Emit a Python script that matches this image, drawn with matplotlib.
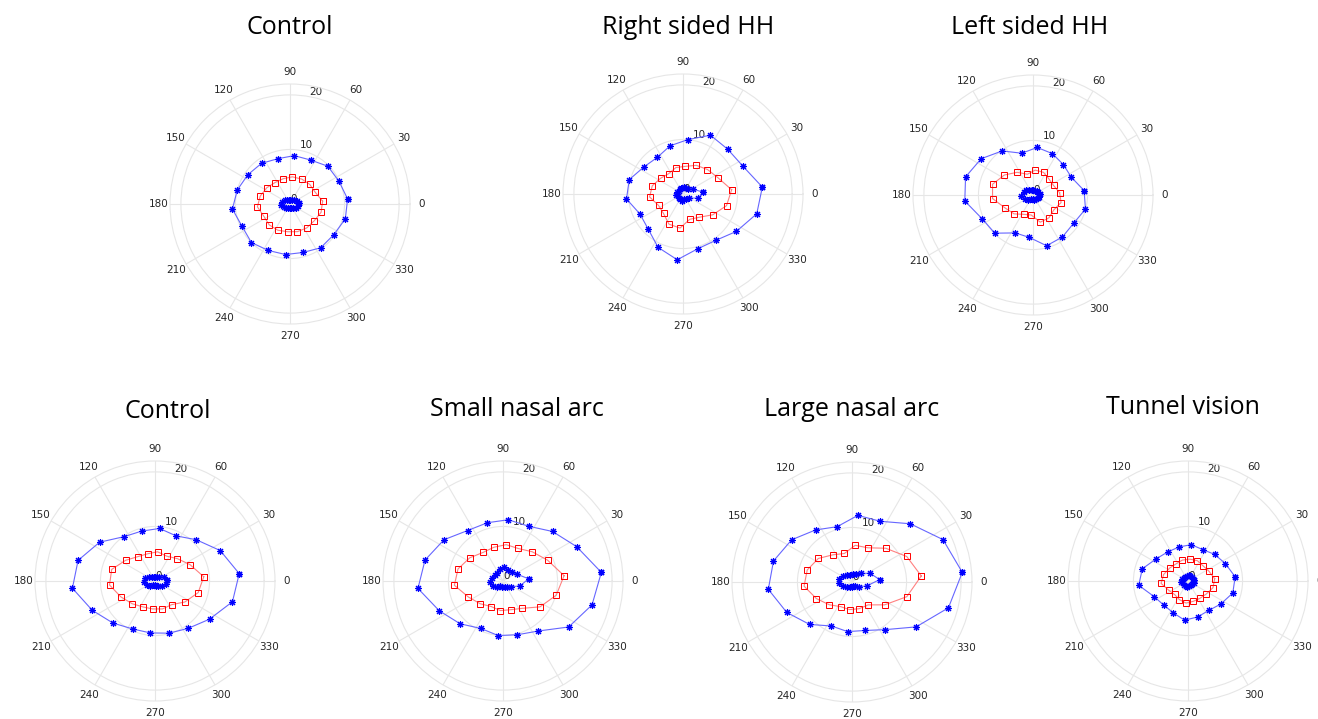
import numpy as np
import matplotlib
matplotlib.use("Agg")
import matplotlib.pyplot as plt

# isopter angles (deg), shared by every panel
angles_deg = [5, 25, 45, 65, 85, 105, 125, 145, 165, 185, 205, 225, 245, 265, 285, 305, 325, 345]

titles = ["Control", "Right sided HH", "Left sided HH",
          "Control", "Small nasal arc", "Large nasal arc", "Tunnel vision"]

theta_labels = ["0", "30", "60", "90", "120", "150", "180", "210", "240", "270", "300", "330"]
r_ticks = [0, 10, 20]

# radii, one value per angle
ctrl_top_outer = [10.6, 9.9, 9.8, 8.9, 8.9, 8.6, 9.1, 9.4, 10.0, 10.6, 9.7, 10.0, 9.4, 9.3, 9.2, 9.8, 9.8, 10.5]
ctrl_top_mid = [6.0, 5.1, 5.1, 5.05, 5.0, 4.8, 4.8, 5.2, 5.65, 6.0, 5.3, 5.4, 5.3, 5.1, 5.25, 5.35, 5.4, 5.9]
ctrl_top_inner = [1.6, 1.4, 1.0, 0.8, 0.8, 0.8, 0.9, 1.2, 1.5, 1.6, 1.3, 1.0, 0.8, 0.8, 0.8, 1.0, 1.3, 1.5]

rhh_outer = [14.6, 12.1, 11.6, 11.9, 10.0, 9.15, 8.2, 8.7, 10.2, 10.4, 8.7, 9.05, 10.8, 12.1, 10.4, 10.4, 11.95, 14.0]
rhh_mid = [8.95, 7.07, 6.35, 5.8, 5.09, 5.02, 4.56, 5.02, 5.83, 6.15, 4.95, 5.05, 6.1, 6.27, 4.8, 5.2, 6.65, 8.26]
rhh_inner = [3.7, 2.1, 1.4, 1.2, 1.2, 1.2, 1.1, 1.0, 1.1, 1.2, 1.0, 1.0, 1.1, 1.2, 1.0, 1.1, 1.3, 2.9]

lhh_outer = [9.4, 7.74, 7.88, 8.38, 8.75, 7.93, 9.86, 11.6, 12.8, 12.55, 10.3, 9.9, 7.67, 7.8, 9.63, 9.4, 9.07, 9.96]
lhh_mid = [4.9, 4.15, 4.14, 4.58, 4.58, 3.94, 5.08, 6.4, 7.67, 7.45, 5.64, 4.89, 3.92, 3.68, 5.16, 5.1, 4.7, 5.33]
lhh_inner = [1.2, 1.1, 1.0, 0.9, 0.9, 1.0, 1.2, 1.5, 1.8, 2.3, 1.6, 1.2, 0.9, 0.8, 0.9, 1.0, 1.1, 1.2]

ctrl_bot_outer = [15.5, 13.2, 10.7, 9.13, 9.67, 9.47, 9.92, 12.4, 14.6, 15.2, 12.7, 10.9, 9.7, 9.56, 9.9, 10.6, 12.2, 14.7]
ctrl_bot_mid = [8.97, 7.09, 5.8, 5.03, 5.38, 5.17, 5.46, 6.6, 8.22, 8.37, 6.9, 5.9, 5.24, 5.14, 5.3, 5.3, 6.7, 8.2]
ctrl_bot_inner = [2.2, 1.8, 1.1, 0.9, 0.8, 0.8, 1.0, 1.4, 1.9, 2.0, 1.6, 1.2, 0.9, 0.8, 0.9, 1.1, 1.5, 2.0]

small_arc_outer = [18.1, 14.9, 12.84, 11.08, 11.27, 11.06, 11.3, 13.2, 14.8, 15.65, 12.9, 11.1, 9.6, 10.04, 10.2, 11.2, 14.7, 16.9]
small_arc_mid = [11.24, 9.02, 7.58, 6.58, 6.69, 6.41, 6.39, 7.43, 8.54, 8.95, 6.98, 5.9, 5.16, 5.44, 5.45, 6.12, 8.27, 10.1]
small_arc_inner = [4.7, 2.9, 2.4, 2.2, 2.5, 2.2, 1.9, 1.8, 2.1, 2.4, 2.1, 1.6, 1.1, 1.1, 1.2, 1.4, 1.9, 3.3]

large_arc_outer = [20.3, 18.4, 15.1, 12.28, 12.26, 10.5, 11.65, 13.5, 14.9, 15.4, 13.2, 11.0, 8.9, 9.13, 9.2, 10.66, 14.35, 18.3]
large_arc_mid = [12.75, 11.07, 8.75, 6.92, 6.75, 5.41, 6.09, 7.53, 8.5, 8.82, 7.2, 5.9, 4.98, 5.08, 5.07, 5.12, 7.3, 10.4]
large_arc_inner = [5.1, 3.7, 2.3, 1.6, 1.5, 1.4, 1.6, 2.0, 2.4, 2.4, 1.9, 1.4, 1.0, 0.9, 0.8, 1.0, 1.5, 2.8]

tunnel_outer = [8.68, 7.56, 6.9, 6.36, 6.69, 6.45, 6.5, 7.1, 8.67, 9.07, 6.82, 6.27, 6.42, 7.22, 6.82, 6.6, 7.35, 8.5]
tunnel_mid = [4.91, 4.24, 3.92, 4.1, 4.02, 3.97, 3.83, 4.12, 4.62, 4.96, 3.94, 3.49, 3.76, 4.06, 3.85, 3.86, 4.12, 4.74]
tunnel_inner = [1.1, 1.0, 1.0, 1.0, 1.1, 1.0, 1.0, 1.0, 1.1, 1.2, 1.0, 1.0, 1.0, 1.1, 1.0, 1.0, 1.0, 1.1]

panels = [
    (ctrl_top_outer, ctrl_top_mid, ctrl_top_inner),
    (rhh_outer, rhh_mid, rhh_inner),
    (lhh_outer, lhh_mid, lhh_inner),
    (ctrl_bot_outer, ctrl_bot_mid, ctrl_bot_inner),
    (small_arc_outer, small_arc_mid, small_arc_inner),
    (large_arc_outer, large_arc_mid, large_arc_inner),
    (tunnel_outer, tunnel_mid, tunnel_inner),
]

W, H = 1318, 719
R = 120  # polar radius in pixels
centers = [(290, 204), (683, 194), (1033, 195),
           (155, 581), (503, 581), (852, 582), (1188, 581)]
title_pos = [(290, 28), (688, 27), (1030, 27),
             (168, 412), (517, 410), (852, 410), (1183, 407)]

fig = plt.figure(figsize=(W / 100, H / 100), dpi=100)
fig.patch.set_facecolor("white")

th = np.deg2rad(angles_deg + angles_deg[:1])


def closed(vals):
    return list(vals) + [vals[0]]


blue_line = (0.4, 0.4, 1.0)
red_line = (1.0, 0.5, 0.5)
asterisk = (8, 2, 0)  # matlab-like '*' marker

for (cx, cy), (outer, mid, inner) in zip(centers, panels):
    ax = fig.add_axes([(cx - R) / W, (H - cy - R) / H, 2 * R / W, 2 * R / H],
                      projection="polar")
    ax.set_ylim(0, 22)
    ax.set_yticks(r_ticks)
    ax.set_yticklabels([str(t) for t in r_ticks])
    ax.set_rlabel_position(80)
    ax.set_xticks(np.deg2rad(np.arange(0, 360, 30)))
    ax.set_xticklabels(theta_labels)
    ax.tick_params(labelsize=7.5, colors="#262626")
    ax.tick_params(axis="x", pad=-2)
    ax.grid(True, color="#e6e6e6", linewidth=0.8)
    ax.spines["polar"].set_color("#e6e6e6")
    ax.spines["polar"].set_linewidth(0.8)

    for ring in (outer, inner):
        ax.plot(th, closed(ring), color=blue_line, linewidth=0.8, zorder=2)
        ax.plot(th, closed(ring), linestyle="none", marker=asterisk, color="blue",
                markeredgewidth=0.8, markersize=5, zorder=3)
    ax.plot(th, closed(mid), color=red_line, linewidth=0.8, zorder=2)
    ax.plot(th, closed(mid), linestyle="none", marker="s", markerfacecolor="none",
            markeredgecolor="red", markeredgewidth=0.7, markersize=5, zorder=3)

for (tx, ty), t in zip(title_pos, titles):
    fig.text(tx / W, 1 - ty / H, t, ha="center", va="center",
             fontsize=18, family="Open Sans", color="black")

fig.savefig("out.png", dpi=100)
